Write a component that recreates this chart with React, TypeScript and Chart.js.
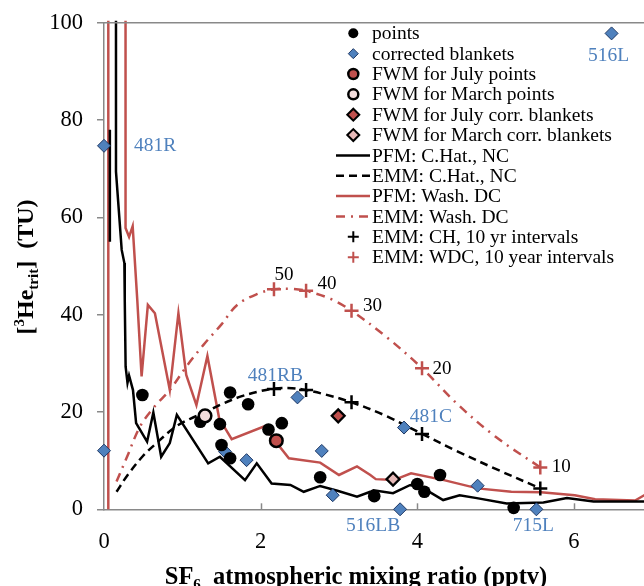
import React, { useEffect, useRef } from 'react';
import { Chart, registerables } from 'chart.js';

Chart.register(...registerables);

const FONT = '"Liberation Serif", "Times New Roman", Times, serif';
const RED = '#C0504D';
const BLUE = '#4F81BD';
const NAVY = '#1F3864';
const GREY = '#898989';
const PINK_LIGHT = '#F2DCDB';
const PINK = '#E6B9B8';

// ---- data ----
const xTicks = [0, 2, 4, 6];
const yTicks = [0, 20, 40, 60, 80, 100];

const pointsX = [0.49, 1.61, 1.84, 1.23, 1.48, 2.10, 2.27, 1.50, 1.61, 2.76, 3.45, 4.00, 4.09, 4.29, 5.23];
const pointsY = [23.5, 24.0, 21.6, 18.0, 17.5, 16.4, 17.7, 13.2, 10.5, 6.6, 2.7, 5.2, 3.6, 7.05, 0.3];

const blanketsX = [0, 0, 1.545, 1.82, 2.47, 2.78, 2.92, 3.78, 3.83, 4.77, 5.52, 6.48];
const blanketsY = [12.05, 74.7, 11.85, 10.1, 23.0, 12.0, 2.9, 0, 16.8, 4.85, 0, 97.8];
const blanketLabels = ['', '481R', '', '', '481RB', '', '', '516LB', '481C', '', '715L', '516L'];

const fwmJulyPtX = [2.20];
const fwmJulyPtY = [14.1];
const fwmMarchPtX = [1.29];
const fwmMarchPtY = [19.2];
const fwmJulyBlX = [2.99];
const fwmJulyBlY = [19.2];
const fwmMarchBlX = [3.69];
const fwmMarchBlY = [6.2];

const tenYearX = [2.17, 2.58, 3.16, 4.06, 5.57];
const chTenYearY = [24.7, 24.5, 22.0, 15.5, 4.3];
const wdcTenYearY = [45.2, 44.9, 40.8, 29.0, 8.6];
const yearLabels = ['50', '40', '30', '20', '10'];

// null marks a break in the line
const pfmChX = [0.075, 0.075, 0.1, 0.153, 0.153, 0.226, 0.26, 0.265, 0.276, 0.30, 0.32, 0.37, 0.41, 0.55, 0.63, 0.73, 0.84, 0.93, 1.33, 1.48, 1.80, 1.95, 2.14, 2.38, 2.55, 2.76, 2.98, 3.23, 3.40, 3.44, 3.69, 3.91, 4.08, 4.33, 4.54, 4.76, 5.14, 5.61, 5.91, 6.25, 6.94];
const pfmChY = [55, 78, null, 110, 69.4, 53.3, 50.6, 43, 29.3, 26, 27.5, 24.5, 17.7, 13.9, 19.9, 10.8, 13.6, 19.4, 9.45, 10.8, 6.0, 9.45, 5.3, 5.0, 3.6, 4.8, 3.8, 2.6, 3.6, 3.9, 3.3, 5.0, 4.3, 1.9, 2.9, 2.3, 1.2, 1.4, 2.3, 1.6, 1.6];

const emmChX = [0.16, 0.3, 0.5, 0.67, 0.9, 1.1, 1.29, 1.5, 1.75, 2.0, 2.17, 2.4, 2.58, 2.8, 3.16, 3.6, 4.06, 4.5, 5.0, 5.57];
const emmChY = [3.6, 7.0, 11.0, 13.6, 16.8, 18.6, 19.9, 21.6, 23.2, 24.3, 24.8, 24.9, 24.5, 23.7, 22.0, 19.2, 15.5, 12.0, 8.3, 4.3];

const pfmWdcX = [0.055, 0.055, 0.275, 0.275, 0.32, 0.366, 0.425, 0.48, 0.56, 0.65, 0.84, 0.95, 1.05, 1.18, 1.32, 1.47, 1.63, 2.04, 2.36, 2.76, 3.0, 3.23, 3.40, 3.47, 3.70, 3.92, 4.34, 4.77, 5.2, 5.58, 6.01, 6.27, 6.78, 6.94];
const pfmWdcY = [0, 110, 110, 57.8, 56, 58.2, 43, 27.3, 42, 40.3, 24.5, 40.3, 27.6, 21.4, 31.5, 18.7, 14.4, 17.0, 10.5, 9.6, 7.05, 8.8, 7.05, 6.2, 6.0, 7.4, 6.0, 4.3, 3.6, 3.5, 2.9, 2.05, 1.8, 3.3];

const emmWdcX = [0.16, 0.3, 0.46, 0.65, 0.84, 1.05, 1.27, 1.5, 1.7, 1.95, 2.17, 2.4, 2.58, 2.9, 3.16, 3.6, 4.06, 4.5, 5.0, 5.57];
const emmWdcY = [5.7, 11.0, 17.0, 21.2, 24.5, 29.3, 33.8, 38.0, 42.0, 44.2, 45.2, 45.3, 44.9, 43.2, 40.8, 35.5, 29.0, 21.8, 14.9, 8.6];

const legendLabels = [
  'points',
  'corrected blankets',
  'FWM for July points',
  'FWM for March points',
  'FWM for July corr. blankets',
  'FWM for March corr. blankets',
  'PFM: C.Hat., NC',
  'EMM: C.Hat., NC',
  'PFM: Wash. DC',
  'EMM: Wash. DC',
  'EMM: CH, 10 yr intervals',
  'EMM: WDC, 10 year intervals',
];

const xy = (xs: number[], ys: (number | null)[]) => xs.map((x, i) => ({ x, y: ys[i] }));

// ---- drawing helpers ----
function circle(ctx: CanvasRenderingContext2D, x: number, y: number, r: number, fill: string, stroke?: string, lw = 0) {
  ctx.beginPath();
  ctx.arc(x, y, r, 0, Math.PI * 2);
  ctx.fillStyle = fill;
  ctx.fill();
  if (stroke && lw) { ctx.lineWidth = lw; ctx.strokeStyle = stroke; ctx.stroke(); }
}
function diamond(ctx: CanvasRenderingContext2D, x: number, y: number, r: number, fill: string, stroke?: string, lw = 0) {
  ctx.beginPath();
  ctx.moveTo(x - r, y); ctx.lineTo(x, y - r); ctx.lineTo(x + r, y); ctx.lineTo(x, y + r); ctx.closePath();
  ctx.fillStyle = fill;
  ctx.fill();
  if (stroke && lw) { ctx.lineWidth = lw; ctx.strokeStyle = stroke; ctx.stroke(); }
}
function plus(ctx: CanvasRenderingContext2D, x: number, y: number, r: number, color: string, lw: number) {
  ctx.beginPath();
  ctx.moveTo(x - r, y); ctx.lineTo(x + r, y); ctx.moveTo(x, y - r); ctx.lineTo(x, y + r);
  ctx.lineWidth = lw; ctx.strokeStyle = color; ctx.setLineDash([]); ctx.stroke();
}
function seg(ctx: CanvasRenderingContext2D, x1: number, x2: number, y: number, color: string, lw: number, dash: number[]) {
  ctx.beginPath();
  ctx.setLineDash(dash);
  ctx.moveTo(x1, y); ctx.lineTo(x2, y);
  ctx.lineWidth = lw; ctx.strokeStyle = color; ctx.stroke();
  ctx.setLineDash([]);
}
type Rich = { t: string; size: number; dy: number };
function richWidth(ctx: CanvasRenderingContext2D, segs: Rich[]) {
  let w = 0;
  for (const s of segs) { ctx.font = `bold ${s.size}px ${FONT}`; w += ctx.measureText(s.t).width; }
  return w;
}
function drawRich(ctx: CanvasRenderingContext2D, segs: Rich[], x: number, y: number) {
  let cx = x;
  ctx.textAlign = 'left';
  ctx.textBaseline = 'alphabetic';
  for (const s of segs) {
    ctx.font = `bold ${s.size}px ${FONT}`;
    ctx.fillText(s.t, cx, y + s.dy);
    cx += ctx.measureText(s.t).width;
  }
}

const xTitle: Rich[] = [
  { t: 'SF', size: 24.5, dy: 0 },
  { t: '6', size: 15, dy: 5 },
  { t: '  atmospheric mixing ratio (pptv)', size: 24.5, dy: 0 },
];
const yTitle: Rich[] = [
  { t: '[', size: 24, dy: 0 },
  { t: '3', size: 15, dy: -9 },
  { t: 'He', size: 24, dy: 0 },
  { t: 'trit', size: 15, dy: 5 },
  { t: ']  (TU)', size: 24, dy: 0 },
];

// pixel offsets of the text labels relative to their markers
const blanketLabelOffsets: Record<string, [number, number, CanvasTextAlign]> = {
  '481R': [30, 0, 'left'],
  '481RB': [-22, -22, 'center'],
  '481C': [27, -11, 'center'],
  '516LB': [-27, 17, 'center'],
  '715L': [-3, 17, 'center'],
  '516L': [-3, 22, 'center'],
};
const yearLabelOffsets: [number, number][] = [[10, -14], [21, -7], [21, -5], [20, 1], [21, 0]];

const overlayPlugin = {
  id: 'overlay',
  afterDraw(chart: any) {
    const ctx: CanvasRenderingContext2D = chart.ctx;
    const xs = chart.scales.x;
    const ys = chart.scales.y;
    const area = chart.chartArea;
    ctx.save();

    // plot frame top line and inside tick marks on x axis
    ctx.strokeStyle = GREY;
    ctx.lineWidth = 1.5;
    ctx.beginPath();
    ctx.moveTo(area.left, area.top);
    ctx.lineTo(area.right + 2, area.top);
    ctx.stroke();
    for (const v of xTicks) {
      if (v === 0) continue;
      const px = Math.round(xs.getPixelForValue(v)) + 0.5;
      ctx.beginPath();
      ctx.moveTo(px, area.bottom);
      ctx.lineTo(px, area.bottom - 6);
      ctx.stroke();
    }

    // blanket labels
    ctx.fillStyle = BLUE;
    ctx.font = `19.5px ${FONT}`;
    ctx.textBaseline = 'middle';
    blanketLabels.forEach((lab, i) => {
      if (!lab) return;
      const o = blanketLabelOffsets[lab];
      ctx.textAlign = o[2];
      ctx.fillText(lab, xs.getPixelForValue(blanketsX[i]) + o[0], ys.getPixelForValue(blanketsY[i]) + o[1]);
    });

    // year labels
    ctx.fillStyle = '#000';
    ctx.font = `19px ${FONT}`;
    ctx.textAlign = 'center';
    yearLabels.forEach((lab, i) => {
      const o = yearLabelOffsets[i];
      ctx.fillText(lab, xs.getPixelForValue(tenYearX[i]) + o[0], ys.getPixelForValue(wdcTenYearY[i]) + o[1]);
    });

    // legend
    const mx = 353.3, tx = 372, y0 = 33.3, dy = 20.35;
    legendLabels.forEach((lab, i) => {
      const y = y0 + i * dy;
      switch (i) {
        case 0: circle(ctx, mx, y, 5, '#000'); break;
        case 1: diamond(ctx, mx, y, 5, BLUE, NAVY, 1); break;
        case 2: circle(ctx, mx, y, 5, RED, '#000', 2.5); break;
        case 3: circle(ctx, mx, y, 5, PINK_LIGHT, '#000', 2.5); break;
        case 4: diamond(ctx, mx, y, 6, RED, '#000', 2); break;
        case 5: diamond(ctx, mx, y, 6, PINK, '#000', 2); break;
        case 6: seg(ctx, 336, 370, y, '#000', 2.5, []); break;
        case 7: seg(ctx, 336, 370, y, '#000', 2.5, [8, 5]); break;
        case 8: seg(ctx, 336, 370, y, RED, 2.5, []); break;
        case 9: seg(ctx, 336, 370, y, RED, 2.5, [9, 6, 2, 6]); break;
        case 10: plus(ctx, mx, y, 5.5, '#000', 2); break;
        case 11: plus(ctx, mx, y, 5.5, RED, 2); break;
      }
      ctx.fillStyle = '#000';
      ctx.font = `19.5px ${FONT}`;
      ctx.textAlign = 'left';
      ctx.textBaseline = 'middle';
      ctx.fillText(lab, tx, y + 1);
    });

    // axis titles
    ctx.fillStyle = '#000';
    const wx = richWidth(ctx, xTitle);
    drawRich(ctx, xTitle, 356 - wx / 2, 584);
    const wy = richWidth(ctx, yTitle);
    ctx.save();
    ctx.translate(33, 267);
    ctx.rotate(-Math.PI / 2);
    drawRich(ctx, yTitle, -wy / 2, 0);
    ctx.restore();

    ctx.restore();
  },
};

function buildConfig(): any {
  const markerBase = { showLine: false, clip: false as any };
  const lineBase = { showLine: true, pointRadius: 0, pointHoverRadius: 0, clip: 2, spanGaps: false };
  return {
    type: 'scatter',
    data: {
      datasets: [
        { ...markerBase, label: legendLabels[2], data: xy(fwmJulyPtX, fwmJulyPtY), pointStyle: 'circle', pointRadius: 6.3, backgroundColor: RED, borderColor: '#000', borderWidth: 2.5 },
        { ...markerBase, label: legendLabels[3], data: xy(fwmMarchPtX, fwmMarchPtY), pointStyle: 'circle', pointRadius: 6.3, backgroundColor: PINK_LIGHT, borderColor: '#000', borderWidth: 2.5 },
        { ...markerBase, label: legendLabels[4], data: xy(fwmJulyBlX, fwmJulyBlY), pointStyle: 'rectRot', pointRadius: 6.5, backgroundColor: RED, borderColor: '#000', borderWidth: 2.2 },
        { ...markerBase, label: legendLabels[5], data: xy(fwmMarchBlX, fwmMarchBlY), pointStyle: 'rectRot', pointRadius: 6.5, backgroundColor: PINK, borderColor: '#000', borderWidth: 2.2 },
        { ...markerBase, label: legendLabels[0], data: xy(pointsX, pointsY), pointStyle: 'circle', pointRadius: 6.3, backgroundColor: '#000', borderColor: '#000', borderWidth: 0 },
        { ...markerBase, label: legendLabels[1], data: xy(blanketsX, blanketsY), pointStyle: 'rectRot', pointRadius: 6.5, backgroundColor: BLUE, borderColor: NAVY, borderWidth: 1 },
        { ...markerBase, label: legendLabels[10], data: xy(tenYearX, chTenYearY), pointStyle: 'cross', pointRadius: 7, backgroundColor: '#000', borderColor: '#000', borderWidth: 2.5 },
        { ...markerBase, label: legendLabels[11], data: xy(tenYearX, wdcTenYearY), pointStyle: 'cross', pointRadius: 7, backgroundColor: RED, borderColor: RED, borderWidth: 2.5 },
        { ...lineBase, label: legendLabels[6], data: xy(pfmChX, pfmChY), borderColor: '#000', borderWidth: 2.5, tension: 0 },
        { ...lineBase, label: legendLabels[7], data: xy(emmChX, emmChY), borderColor: '#000', borderWidth: 2.5, borderDash: [8, 5], tension: 0.35 },
        { ...lineBase, label: legendLabels[8], data: xy(pfmWdcX, pfmWdcY), borderColor: RED, borderWidth: 2.5, tension: 0 },
        { ...lineBase, label: legendLabels[9], data: xy(emmWdcX, emmWdcY), borderColor: RED, borderWidth: 2.5, borderDash: [9, 6, 2, 6], tension: 0.35 },
      ],
    },
    options: {
      responsive: false,
      animation: false,
      events: [],
      layout: { autoPadding: false, padding: { left: 0, right: 0, top: 22.7, bottom: 0 } },
      plugins: { legend: { display: false }, tooltip: { enabled: false }, title: { display: false } },
      scales: {
        x: {
          type: 'linear',
          min: 0,
          max: 6.894,
          afterBuildTicks: (scale: any) => { scale.ticks = xTicks.map((v) => ({ value: v })); },
          afterFit: (scale: any) => { scale.height = 76.7; scale.paddingLeft = 0; scale.paddingRight = 0; },
          grid: { display: false },
          border: { display: true, color: GREY, width: 1.5 },
          ticks: { color: '#000', font: { family: FONT, size: 22.5 }, padding: 11, maxRotation: 0, autoSkip: false },
        },
        y: {
          type: 'linear',
          min: 0,
          max: 100,
          afterBuildTicks: (scale: any) => { scale.ticks = yTicks.map((v) => ({ value: v })); },
          afterFit: (scale: any) => { scale.width = 104; scale.paddingTop = 0; scale.paddingBottom = 0; },
          grid: {
            display: true,
            drawOnChartArea: false,
            drawTicks: true,
            tickLength: 7,
            tickColor: GREY,
            lineWidth: 1.5,
          },
          border: { display: true, color: GREY, width: 1.5 },
          ticks: { color: '#000', font: { family: FONT, size: 22.5 }, padding: 14 },
        },
      },
    },
    plugins: [overlayPlugin],
  };
}

export default function App() {
  const ref = useRef<HTMLCanvasElement>(null);
  useEffect(() => {
    if (!ref.current) return;
    const chart = new Chart(ref.current, buildConfig());
    return () => chart.destroy();
  }, []);
  return (
    <div style={{ position: 'fixed', left: 0, top: 0, width: 644, height: 586, background: '#fff' }}>
      <canvas ref={ref} width={644} height={586} style={{ display: 'block' }} />
    </div>
  );
}
